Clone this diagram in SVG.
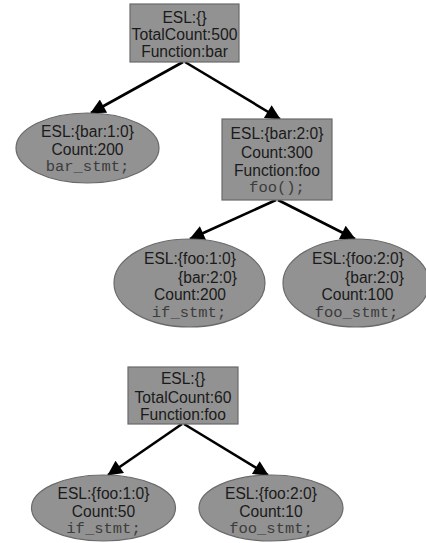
<svg xmlns="http://www.w3.org/2000/svg" width="426" height="543" viewBox="0 0 426 543">
<style>
.n{fill:#929292;stroke:#6a6a6a;stroke-width:1.2}
.t{font-family:"Liberation Sans",Arial,sans-serif;font-size:15.6px;fill:#1a1a1a;text-anchor:middle}
.m{font-family:"Liberation Mono","Courier New",monospace;font-size:15.5px;fill:#3c3c3c;text-anchor:middle}
.e{stroke:#000;stroke-width:2.6;fill:none;marker-end:url(#a)}
</style>
<defs>
<marker id="a" viewBox="0 0 10 10" refX="9.5" refY="5" markerWidth="22" markerHeight="15" markerUnits="userSpaceOnUse" orient="auto">
<path d="M0,0 L10,5 L0,10 z" fill="#000"/>
</marker>
</defs>
<rect width="426" height="543" fill="#fff"/>
<g id="edges">
<line class="e" x1="183" y1="62" x2="91" y2="113"/>
<line class="e" x1="185" y1="62" x2="280" y2="119"/>
<line class="e" x1="276" y1="200" x2="190" y2="239"/>
<line class="e" x1="278" y1="200" x2="355" y2="239"/>
<line class="e" x1="182" y1="424" x2="108" y2="475"/>
<line class="e" x1="184" y1="424" x2="268" y2="475"/>
</g>
<g id="n1">
<rect class="n" x="130" y="4" width="109" height="58"/>
<text class="t" x="184.5" y="22.5">ESL:{}</text>
<text class="t" x="184.5" y="39.5" textLength="106" lengthAdjust="spacingAndGlyphs">TotalCount:500</text>
<text class="t" x="184.5" y="57">Function:bar</text>
</g>
<g id="n2">
<ellipse class="n" cx="87.5" cy="148" rx="71.5" ry="35"/>
<text class="t" x="87.5" y="136.5">ESL:{bar:1:0}</text>
<text class="t" x="87.5" y="154.5">Count:200</text>
<text class="m" x="87.5" y="171">bar_stmt;</text>
</g>
<g id="n3">
<rect class="n" x="222" y="119" width="110" height="81"/>
<text class="t" x="277" y="138.5">ESL:{bar:2:0}</text>
<text class="t" x="277" y="157.5">Count:300</text>
<text class="t" x="277" y="175.5">Function:foo</text>
<text class="m" x="277" y="192">foo();</text>
</g>
<g id="n4">
<ellipse class="n" cx="189.5" cy="283" rx="75.5" ry="44"/>
<text class="t" x="190" y="263.5">ESL:{foo:1:0}</text>
<text class="t" x="237" y="282.5" style="text-anchor:end">{bar:2:0}</text>
<text class="t" x="190" y="299.5">Count:200</text>
<text class="m" x="189" y="317">if_stmt;</text>
</g>
<g id="n5">
<ellipse class="n" cx="356" cy="283" rx="73" ry="44"/>
<text class="t" x="358" y="263.5">ESL:{foo:2:0}</text>
<text class="t" x="404" y="282.5" style="text-anchor:end">{bar:2:0}</text>
<text class="t" x="357.5" y="299.5">Count:100</text>
<text class="m" x="356.5" y="317">foo_stmt;</text>
</g>
<g id="n6">
<rect class="n" x="128" y="367" width="110" height="57"/>
<text class="t" x="183" y="383.5">ESL:{}</text>
<text class="t" x="183" y="402.5" textLength="97" lengthAdjust="spacingAndGlyphs">TotalCount:60</text>
<text class="t" x="183" y="419.5">Function:foo</text>
</g>
<g id="n7">
<ellipse class="n" cx="103.5" cy="508" rx="72" ry="33"/>
<text class="t" x="103.5" y="498.5">ESL:{foo:1:0}</text>
<text class="t" x="103.5" y="516.5">Count:50</text>
<text class="m" x="103.5" y="533">if_stmt;</text>
</g>
<g id="n8">
<ellipse class="n" cx="271" cy="508" rx="72" ry="33"/>
<text class="t" x="271" y="498.5">ESL:{foo:2:0}</text>
<text class="t" x="271" y="516.5">Count:10</text>
<text class="m" x="271" y="533">foo_stmt;</text>
</g>
</svg>
